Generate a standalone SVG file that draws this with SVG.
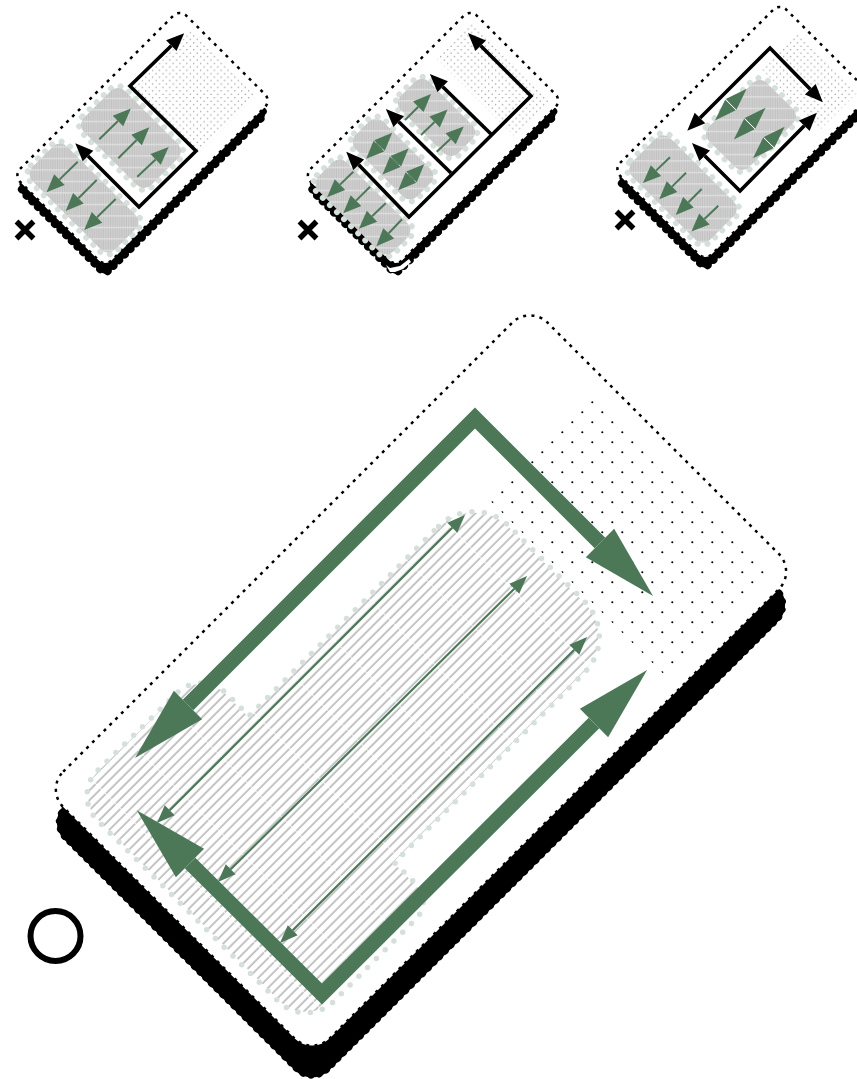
<svg xmlns="http://www.w3.org/2000/svg" width="857" height="1079" viewBox="0 0 857 1079">
<style>
.shf{fill:#000}
.shd{fill:none;stroke:#000;stroke-width:8;stroke-linecap:round;stroke-dasharray:0 8}
.card{fill:#fff;stroke:#000;stroke-width:2.5;stroke-dasharray:3 5.2}
.blk{fill:url(#hs)}
.edge{fill:none;stroke:#d6e0da;stroke-width:6;stroke-linecap:round;stroke-dasharray:0 10}
.k{fill:none;stroke:#000;stroke-width:3.6;stroke-linejoin:miter;marker-start:url(#mk);marker-end:url(#mk)}
.g{fill:none;stroke:#4c7858;stroke-width:2;marker-end:url(#mg)}
.gd{fill:none;stroke:#4c7858;stroke-width:9;marker-start:url(#mg);marker-end:url(#mg)}
.gD{fill:none;stroke:#4c7858;stroke-width:9;marker-start:url(#mG);marker-end:url(#mG)}
.big{fill:none;stroke:#4c7858;stroke-width:15;stroke-linejoin:miter;marker-start:url(#mb);marker-end:url(#mb)}
.thin{fill:none;stroke:#4c7858;stroke-width:2.2;marker-start:url(#mt);marker-end:url(#mt)}
.x{fill:none;stroke:#000;stroke-width:5.4}
.w{fill:none;stroke:#f2f2f2;stroke-width:1}
</style>
<defs>
<pattern id="hm" width="54" height="7" patternUnits="userSpaceOnUse" patternTransform="rotate(-45)">
<line x1="0" y1="6.2" x2="53.3" y2="6.2" stroke="#bcbcbc" stroke-width="1.7"/>
</pattern>
<pattern id="hs" width="11.5" height="11.5" patternUnits="userSpaceOnUse" patternTransform="rotate(-45)">
<rect width="11.5" height="11.5" fill="#d2d2d2"/>
<g stroke="#bcbcbc" stroke-width=".9"><line x1="0" y1="1.15" x2="11.5" y2="1.15"/><line x1="0" y1="3.45" x2="11.5" y2="3.45"/><line x1="0" y1="5.75" x2="11.5" y2="5.75"/><line x1="0" y1="8.05" x2="11.5" y2="8.05"/><line x1="0" y1="10.35" x2="11.5" y2="10.35"/></g>
<line x1="5" y1="0" x2="5" y2="11.5" stroke="#eeeeee" stroke-width=".8"/>
</pattern>
<pattern id="dm" width="20" height="20" patternUnits="userSpaceOnUse">
<circle cx="12.3" cy="2.3" r="1.05" fill="#000"/><circle cx="2.3" cy="12.3" r="1.05" fill="#000"/>
</pattern>
<pattern id="ds" width="6.86" height="6.86" patternUnits="userSpaceOnUse">
<circle cx="1.7" cy="1.7" r=".65" fill="#8e8e8e"/><circle cx="5.13" cy="5.13" r=".65" fill="#8e8e8e"/>
</pattern>
<marker id="mk" markerUnits="userSpaceOnUse" markerWidth="18" markerHeight="15" refX="0" refY="7.5" orient="auto-start-reverse" overflow="visible"><polygon points="0,0 18,7.5 0,15" fill="#000"/></marker>
<marker id="mg" markerUnits="userSpaceOnUse" markerWidth="18" markerHeight="15" refX="0" refY="7.5" orient="auto-start-reverse" overflow="visible"><polygon points="0,0 18,7.5 0,15" fill="#4c7858"/></marker>
<marker id="mG" markerUnits="userSpaceOnUse" markerWidth="22" markerHeight="15" refX="0" refY="7.5" orient="auto-start-reverse" overflow="visible"><polygon points="0,0 22,7.5 0,15" fill="#4c7858"/></marker>
<marker id="mb" markerUnits="userSpaceOnUse" markerWidth="75" markerHeight="40" refX="0" refY="20" orient="auto-start-reverse" overflow="visible"><polygon points="0,0 75,20 0,40" fill="#4c7858"/></marker>
<marker id="mt" markerUnits="userSpaceOnUse" markerWidth="18" markerHeight="14" refX="0" refY="7" orient="auto-start-reverse" overflow="visible"><polygon points="0,0 18,7 0,14" fill="#4c7858"/></marker>
<g id="cardS">
<g transform="translate(0 13) rotate(-45)"><rect class="shf" x="-115.5" y="-62.7" width="231" height="125.4" rx="8"/><rect class="shd" x="-113.5" y="-60.7" width="227" height="121.4" rx="6"/></g>
<rect class="card" x="-117.5" y="-64.7" width="235" height="129.4" rx="9" transform="rotate(-45)"/>
</g>
<path id="outline" d="M438.6 526.4A50 50 0 0 1 509.4 526.4L584.6 601.6A50 50 0 0 1 584.6 672.4L394.5 862.5L415.8 883.8A25 25 0 0 1 415.8 919.2L333.6 1001.4A39 39 0 0 1 278.4 1001.4L97.2 820.2A35 35 0 0 1 97.2 770.8L176.8 693.2A35 35 0 0 1 226.2 693.2L249 716Z"/>
</defs>

<g id="panel-a">
<use href="#cardS" transform="translate(142.5 138)"/>
<polygon fill="url(#ds)" points="191,31 256,96 198.5,153.5 133.5,88.5"/>
<g id="a-upper" transform="translate(131 138) rotate(-45)"><rect class="edge" x="-31" y="-49.5" width="62" height="99" rx="12"/><rect class="blk" x="-29" y="-47.5" width="58" height="95" rx="10"/></g>
<g id="a-lower" transform="translate(84 198) rotate(-45)"><rect class="edge" x="-26.5" y="-60.5" width="53" height="121" rx="12"/><rect class="blk" x="-24.5" y="-58.5" width="49" height="117" rx="10"/></g>
<path class="x" d="M16.5 221.5L33.5 238.5M33.5 221.5L16.5 238.5"/>
</g>

<g id="panel-b">
<use href="#cardS" transform="translate(433 138)"/>
<polygon fill="url(#ds)" points="472.5,22.5 550,100 514,136 436.5,58.5"/>
<g id="b-lower" transform="translate(363 207) rotate(-45)"><rect class="edge" x="-22" y="-55" width="44" height="110" rx="12"/><rect class="blk" x="-20" y="-53" width="40" height="106" rx="10"/></g>
<g id="b-middle" transform="translate(393 159) rotate(-45)"><rect class="edge" x="-21.5" y="-45.5" width="43" height="91" rx="12"/><rect class="blk" x="-19.5" y="-43.5" width="39" height="87" rx="10"/></g>
<g id="b-upper" transform="translate(436.5 117.5) rotate(-45)"><rect class="edge" x="-22" y="-42.5" width="44" height="85" rx="12"/><rect class="blk" x="-20" y="-40.5" width="40" height="81" rx="10"/></g>
<path d="M386 265L390 268L400 266L409 259L411 262L403 269L395 272L390 272Z" fill="#fff"/>
<path class="x" d="M299.5 221.5L316.5 238.5M316.5 221.5L299.5 238.5"/>
</g>

<g id="panel-c">
<use href="#cardS" transform="translate(742.5 132)"/>
<polygon fill="url(#ds)" points="797,33 857,93 821,129 761,69"/>
<g id="c-upper" transform="translate(751 125) rotate(-45)"><rect class="edge" x="-43" y="-30.5" width="86" height="61" rx="12"/><rect class="blk" x="-41" y="-28.5" width="82" height="57" rx="10"/></g>
<g id="c-lower" transform="translate(683 189) rotate(-45)"><rect class="edge" x="-29" y="-57" width="58" height="114" rx="12"/><rect class="blk" x="-27" y="-55" width="54" height="110" rx="10"/></g>
<path class="x" d="M616.5 211.5L633.5 228.5M633.5 211.5L616.5 228.5"/>
</g>

<g id="panel-main">
<g transform="translate(421 713.5) rotate(-45)"><rect class="shf" x="-341.5" y="-187.5" width="683" height="375" rx="24"/><rect class="shd" x="-338.5" y="-184.5" width="677" height="369" rx="21"/></g>
<rect class="card" x="-342.5" y="-188.5" width="685" height="377" rx="25" transform="translate(421 680.5) rotate(-45)"/>
<polygon fill="url(#dm)" points="592.5,400 765,572.5 663.5,674 491,501.5"/>
<g id="main-block">
<use href="#outline" fill="url(#hm)"/>
<use href="#outline" fill="none" stroke="#fff" stroke-width="2"/>
<use href="#outline" fill="none" stroke="#d6e0da" stroke-width="5.5" stroke-linecap="round" stroke-dasharray="0 12.4"/>
</g>
<circle id="ring" cx="55.5" cy="936" r="25" fill="none" stroke="#000" stroke-width="6"/>
</g>

<g id="connectors">
<path class="k" d="M88 156L139 207L196 151L130 86L171.3 45.7"/>
<path class="g" d="M99.3 139.3L118 121"/><path class="g" d="M118.3 158.3L136.6 140"/><path class="g" d="M137.3 176.7L155.6 159.4"/>
<path class="g" d="M77.7 161.7L59.4 179.6"/><path class="g" d="M96.7 180L78.4 198.3"/><path class="g" d="M115.7 199L97 217.3"/>

<path class="k" d="M480.7 45.7L531 96L409 217L358.7 164.7"/>
<path class="k" style="marker-start:none" d="M491 134L442.7 86.7"/>
<path class="k" style="marker-start:none" d="M451 173L398.7 121.7"/>
<path class="g" d="M405 120L418.3 106.7"/><path class="g" d="M421 135L434.6 122"/><path class="g" d="M436.7 151.7L450.6 138.7"/>
<path class="gd" d="M378.9 146.1L379.5 145.5"/><path class="gd" d="M395.2 161.8L395.8 161.2"/><path class="gd" d="M410.9 177.5L411.5 176.9"/>
<path class="g" d="M353.3 171.7L340 184.6"/><path class="g" d="M370 186.7L356 200.6"/><path class="g" d="M385.7 203.3L372 216.3"/><path class="g" d="M402 219.3L388.7 233.3"/>

<path class="k" d="M810.3 89.3L770 48L700 118"/>
<path class="k" d="M804.3 125.7L740 191L704.7 155.7"/>
<path class="g" d="M670 157.3L656 170.6"/><path class="g" d="M686 172.7L672 186.6"/><path class="g" d="M701.7 189L688.4 202.3"/><path class="g" d="M718.3 205.7L704.4 219"/>
<path class="gD" d="M730.5 105L731.1 104.4"/><path class="gD" d="M749.4 124L750 123.4"/><path class="gD" d="M768.5 142.8L769.1 142.2"/>
<path class="w" d="M726 100L736 110M745 119L755 129M764 138L774 148"/>

<path class="big" d="M600 543L475 418L188 705"/>
<path class="big" d="M594 723L322 994L190 863"/>
<path class="thin" d="M169.7 810.3L452.3 527.7"/>
<path class="thin" d="M230.7 869.3L514.3 588.7"/>
<path class="thin" d="M292.7 930.3L574.3 649.7"/>
</g>
</svg>
